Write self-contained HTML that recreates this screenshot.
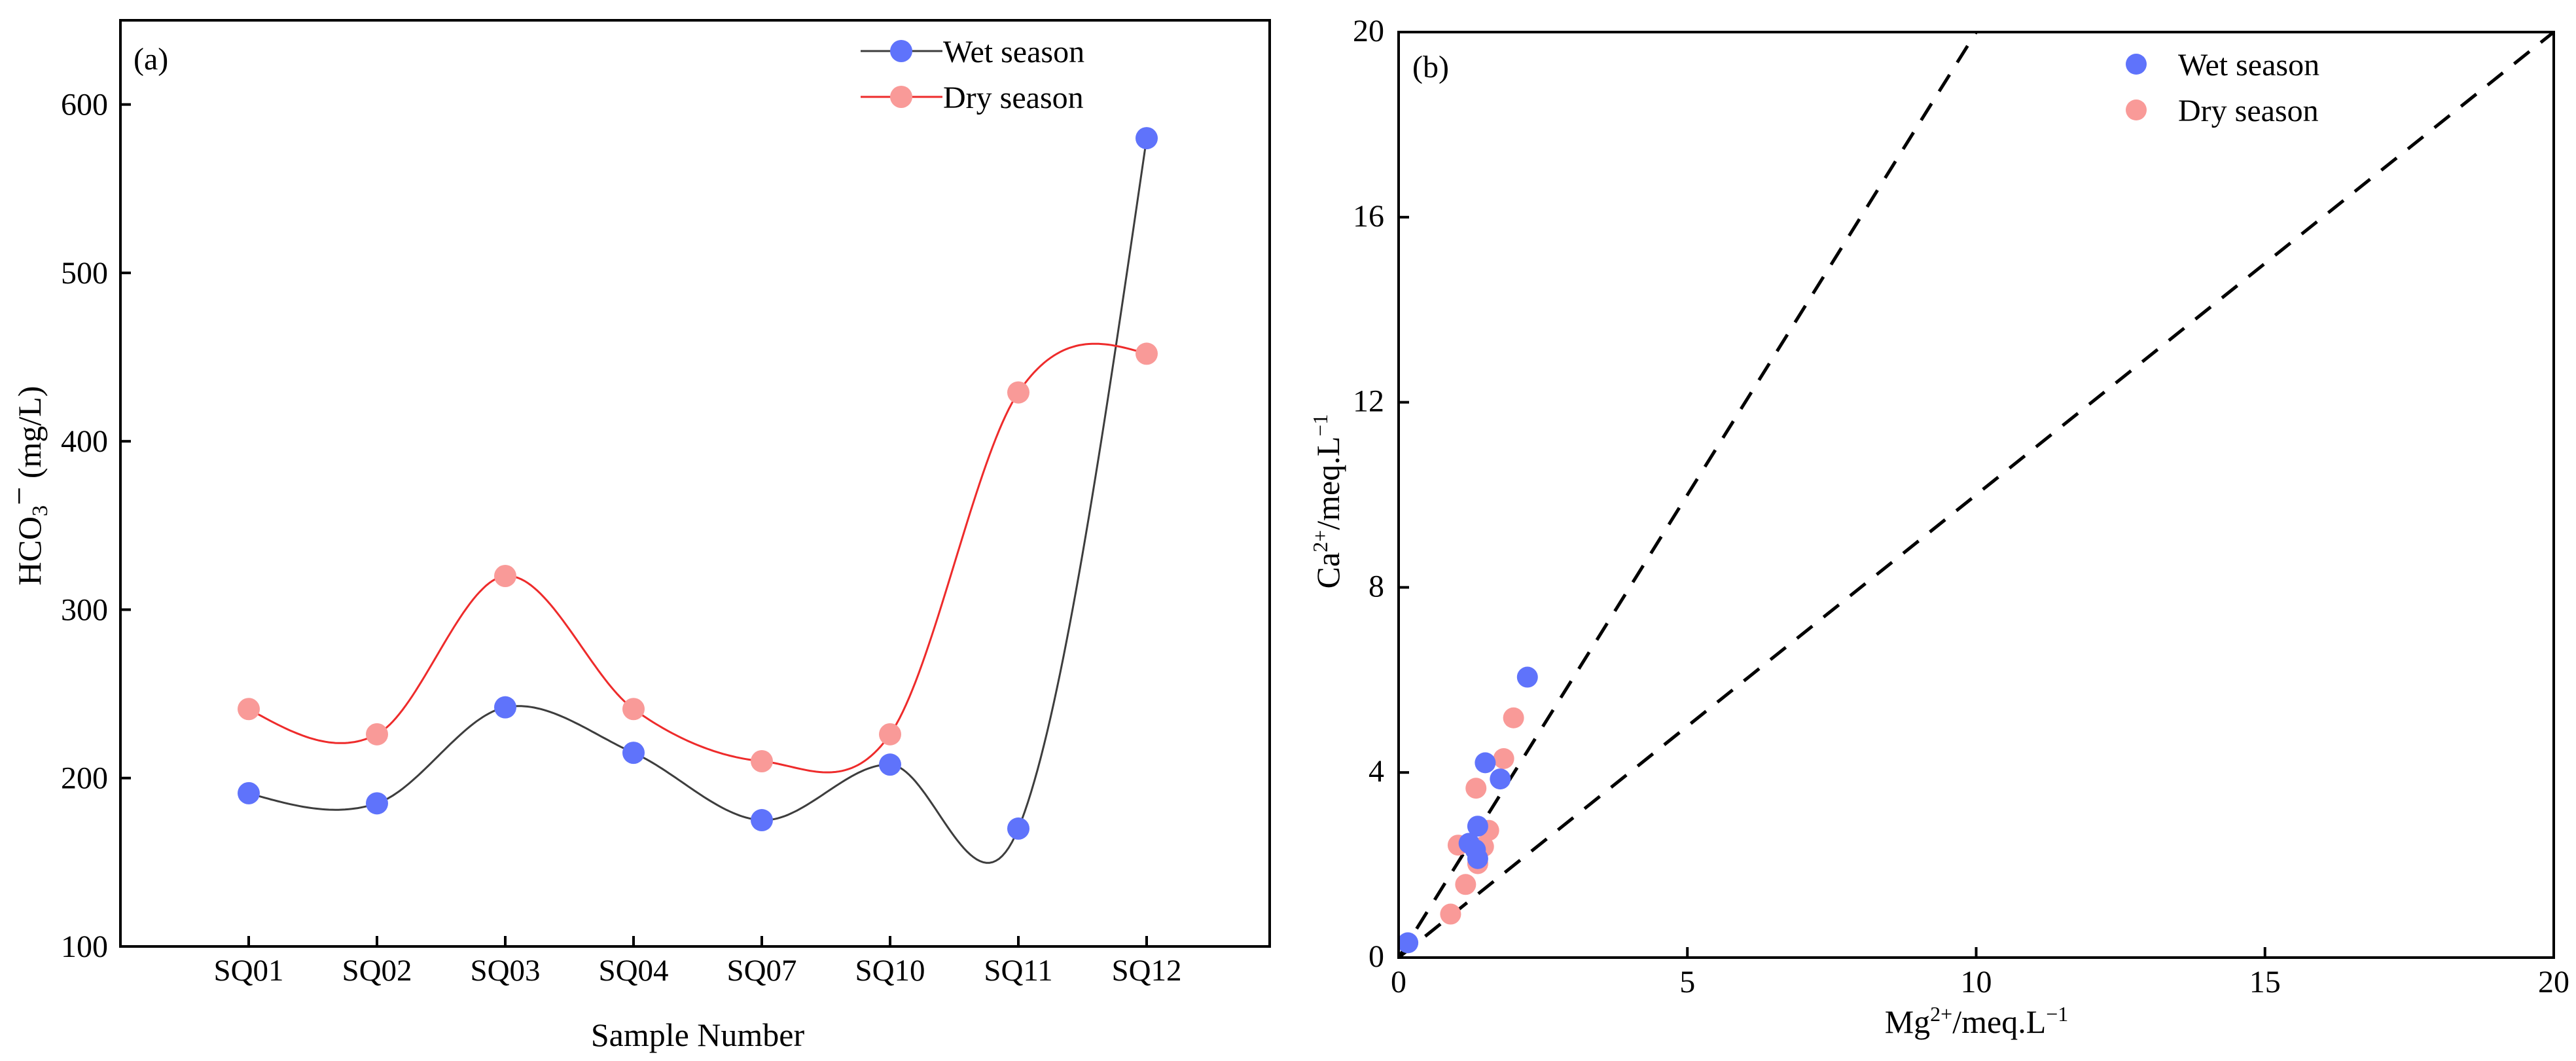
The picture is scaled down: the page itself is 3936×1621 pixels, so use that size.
<!DOCTYPE html>
<html><head><meta charset="utf-8"><style>
html,body{margin:0;padding:0;background:#fff;}
svg{display:block;font-family:"Liberation Serif",serif;}
</style></head><body>
<svg id="chart" width="3936" height="1621" viewBox="0 0 3936 1621" xmlns="http://www.w3.org/2000/svg">
<rect width="3936" height="1621" fill="#fff"/>
<g id="pa"></g>
<g id="pb"></g>
</svg>
<script>
const categories = ["SQ01","SQ02","SQ03","SQ04","SQ07","SQ10","SQ11","SQ12"];
const wetHCO3 = [191,185,242,215,175,208,170,580];
const dryHCO3 = [241,226,320,241,210,226,429,452];
const aTicks = [100,200,300,400,500,600];
const wetMg = [0.16,2.23,1.5,1.76,1.37,1.22,1.33,1.37];
const wetCa = [0.32,6.06,4.21,3.86,2.84,2.47,2.33,2.14];
const dryMg = [0.9,1.16,1.03,1.47,1.37,1.56,1.34,1.82,1.99];
const dryCa = [0.94,1.58,2.43,2.40,2.03,2.75,3.66,4.30,5.18];
const bXTicks = [0,5,10,15,20];
const bYTicks = [0,4,8,12,16,20];
const refSlopes = [2,1];

const NS="http://www.w3.org/2000/svg";
function mk(parent,tag,attrs,text){const e=document.createElementNS(NS,tag);for(const k in attrs)e.setAttribute(k,attrs[k]);if(text!==undefined)e.textContent=text;parent.appendChild(e);return e;}
const BLUE="#5f73fb", PINK="#f99a98";

// ---------- Panel A ----------
const pa=document.getElementById('pa');
const aL=184,aR=1940,aT=31,aB=1446;
const ax=i=>aL+(i+1)*(380-184);
const ay=v=>aB-(v-100)*(aB-aT)/550;
function spline(ys){
  const n=ys.length,m=new Array(n).fill(0);
  for(let i=1;i<n-1;i++)m[i]=(ys[i+1]-ys[i-1])/2;
  m[0]=(3*(ys[1]-ys[0])-m[1])/2;
  m[n-1]=(3*(ys[n-1]-ys[n-2])-m[n-2])/2;
  let p="";
  for(let j=0;j<n-1;j++)for(let k=0;k<=40;k++){const t=k/40,t2=t*t,t3=t2*t;
    const v=(2*t3-3*t2+1)*ys[j]+(t3-2*t2+t)*m[j]+(-2*t3+3*t2)*ys[j+1]+(t3-t2)*m[j+1];
    p+=(p?"L":"M")+ax(j+t).toFixed(1)+","+ay(v).toFixed(1);}
  return p;
}
const wl=mk(pa,'path',{d:spline(wetHCO3),fill:'none',stroke:'#3d3d3d','stroke-width':3});

const dl=mk(pa,'path',{d:spline(dryHCO3),fill:'none',stroke:'#ee2b2b','stroke-width':3});

dryHCO3.forEach((v,i)=>{const c=mk(pa,'circle',{cx:ax(i),cy:ay(v),r:17,fill:PINK});

});
wetHCO3.forEach((v,i)=>{const c=mk(pa,'circle',{cx:ax(i),cy:ay(v),r:17,fill:BLUE});

});
const fa=mk(pa,'rect',{x:aL,y:aT,width:aR-aL,height:aB-aT,fill:'none',stroke:'#000','stroke-width':4});

aTicks.forEach(v=>{mk(pa,'line',{x1:aL,x2:aL+16,y1:ay(v),y2:ay(v),stroke:'#000','stroke-width':4});
const t=mk(pa,'text',{x:aL-19,y:ay(v)+16,'text-anchor':'end','font-size':48},String(v));
});
categories.forEach((c,i)=>{mk(pa,'line',{x1:ax(i),x2:ax(i),y1:aB,y2:aB-16,stroke:'#000','stroke-width':4});
const t=mk(pa,'text',{x:ax(i),y:1498,'text-anchor':'middle','font-size':47},c);
});
</script>
<script>
(function(){
const pa=document.getElementById('pa');
pa.insertAdjacentHTML('beforeend',
'<text x="1066" y="1598" text-anchor="middle" font-size="50">Sample Number</text>'+
'<text transform="translate(62,742) rotate(-90)" text-anchor="middle" font-size="50">HCO<tspan font-size="34" dy="10">3</tspan><tspan dy="-26">−</tspan><tspan dy="16"> (mg/L)</tspan></text>'+
'<text x="204" y="106" font-size="48">(a)</text>'+
'<g><line x1="1315" x2="1440" y1="78" y2="78" stroke="#3d3d3d" stroke-width="3"/><circle cx="1377" cy="78" r="17" fill="#5f73fb"/><text x="1441" y="95" font-size="48">Wet season</text></g>'+
'<g><line x1="1315" x2="1440" y1="148" y2="148" stroke="#ee2b2b" stroke-width="3"/><circle cx="1377" cy="148" r="17" fill="#f99a98"/><text x="1441" y="165" font-size="48">Dry season</text></g>');
})();
</script>
<script>
(function(){
const pb=document.getElementById('pb');
const bL=2137,bR=3902,bT=49,bB=1463;
const bx=v=>bL+v*(bR-bL)/20, by=v=>bB-v*(bB-bT)/20;
mk(pb,'clipPath',{id:'clipb'}).appendChild(document.createElementNS(NS,'rect'));
const cr=document.querySelector('#clipb rect');cr.setAttribute('x',bL);cr.setAttribute('y',bT);cr.setAttribute('width',bR-bL);cr.setAttribute('height',bB-bT);
refSlopes.forEach(s=>{const xe=Math.min(20,20/s);
const l=mk(pb,'line',{x1:bx(0),y1:by(0),x2:bx(xe),y2:by(xe*s),stroke:'#000','stroke-width':5,'stroke-dasharray':'30 22','clip-path':'url(#clipb)'});
});
dryMg.forEach((m,i)=>{const c=mk(pb,'circle',{cx:bx(m),cy:by(dryCa[i]),r:16,fill:PINK});
});
wetMg.forEach((m,i)=>{const c=mk(pb,'circle',{cx:bx(m),cy:by(wetCa[i]),r:16,fill:BLUE});
});
const fb=mk(pb,'rect',{x:bL,y:bT,width:bR-bL,height:bB-bT,fill:'none',stroke:'#000','stroke-width':4});

bXTicks.forEach(v=>{mk(pb,'line',{x1:bx(v),x2:bx(v),y1:bB,y2:bB-16,stroke:'#000','stroke-width':4});
const t=mk(pb,'text',{x:bx(v),y:1516,'text-anchor':'middle','font-size':48},String(v));
});
bYTicks.forEach(v=>{mk(pb,'line',{x1:bL,x2:bL+16,y1:by(v),y2:by(v),stroke:'#000','stroke-width':4});
const t=mk(pb,'text',{x:bL-22,y:by(v)+14,'text-anchor':'end','font-size':48},String(v));
});
pb.insertAdjacentHTML('beforeend',
'<text x="3020" y="1578" text-anchor="middle" font-size="50">Mg<tspan font-size="32" dy="-18">2+</tspan><tspan dy="18">/meq.L</tspan><tspan font-size="32" dy="-18">−1</tspan></text>'+
'<text transform="translate(2046,766) rotate(-90)" text-anchor="middle" font-size="50">Ca<tspan font-size="32" dy="-18">2+</tspan><tspan dy="18">/meq.L</tspan><tspan font-size="32" dy="-18">−1</tspan></text>'+
'<text x="2158" y="118" font-size="48">(b)</text>'+
'<g><circle cx="3264" cy="98" r="16" fill="#5f73fb"/><text x="3328" y="115" font-size="48">Wet season</text></g>'+
'<g><circle cx="3264" cy="168" r="16" fill="#f99a98"/><text x="3328" y="185" font-size="48">Dry season</text></g>');
})();
</script>
</body></html>
